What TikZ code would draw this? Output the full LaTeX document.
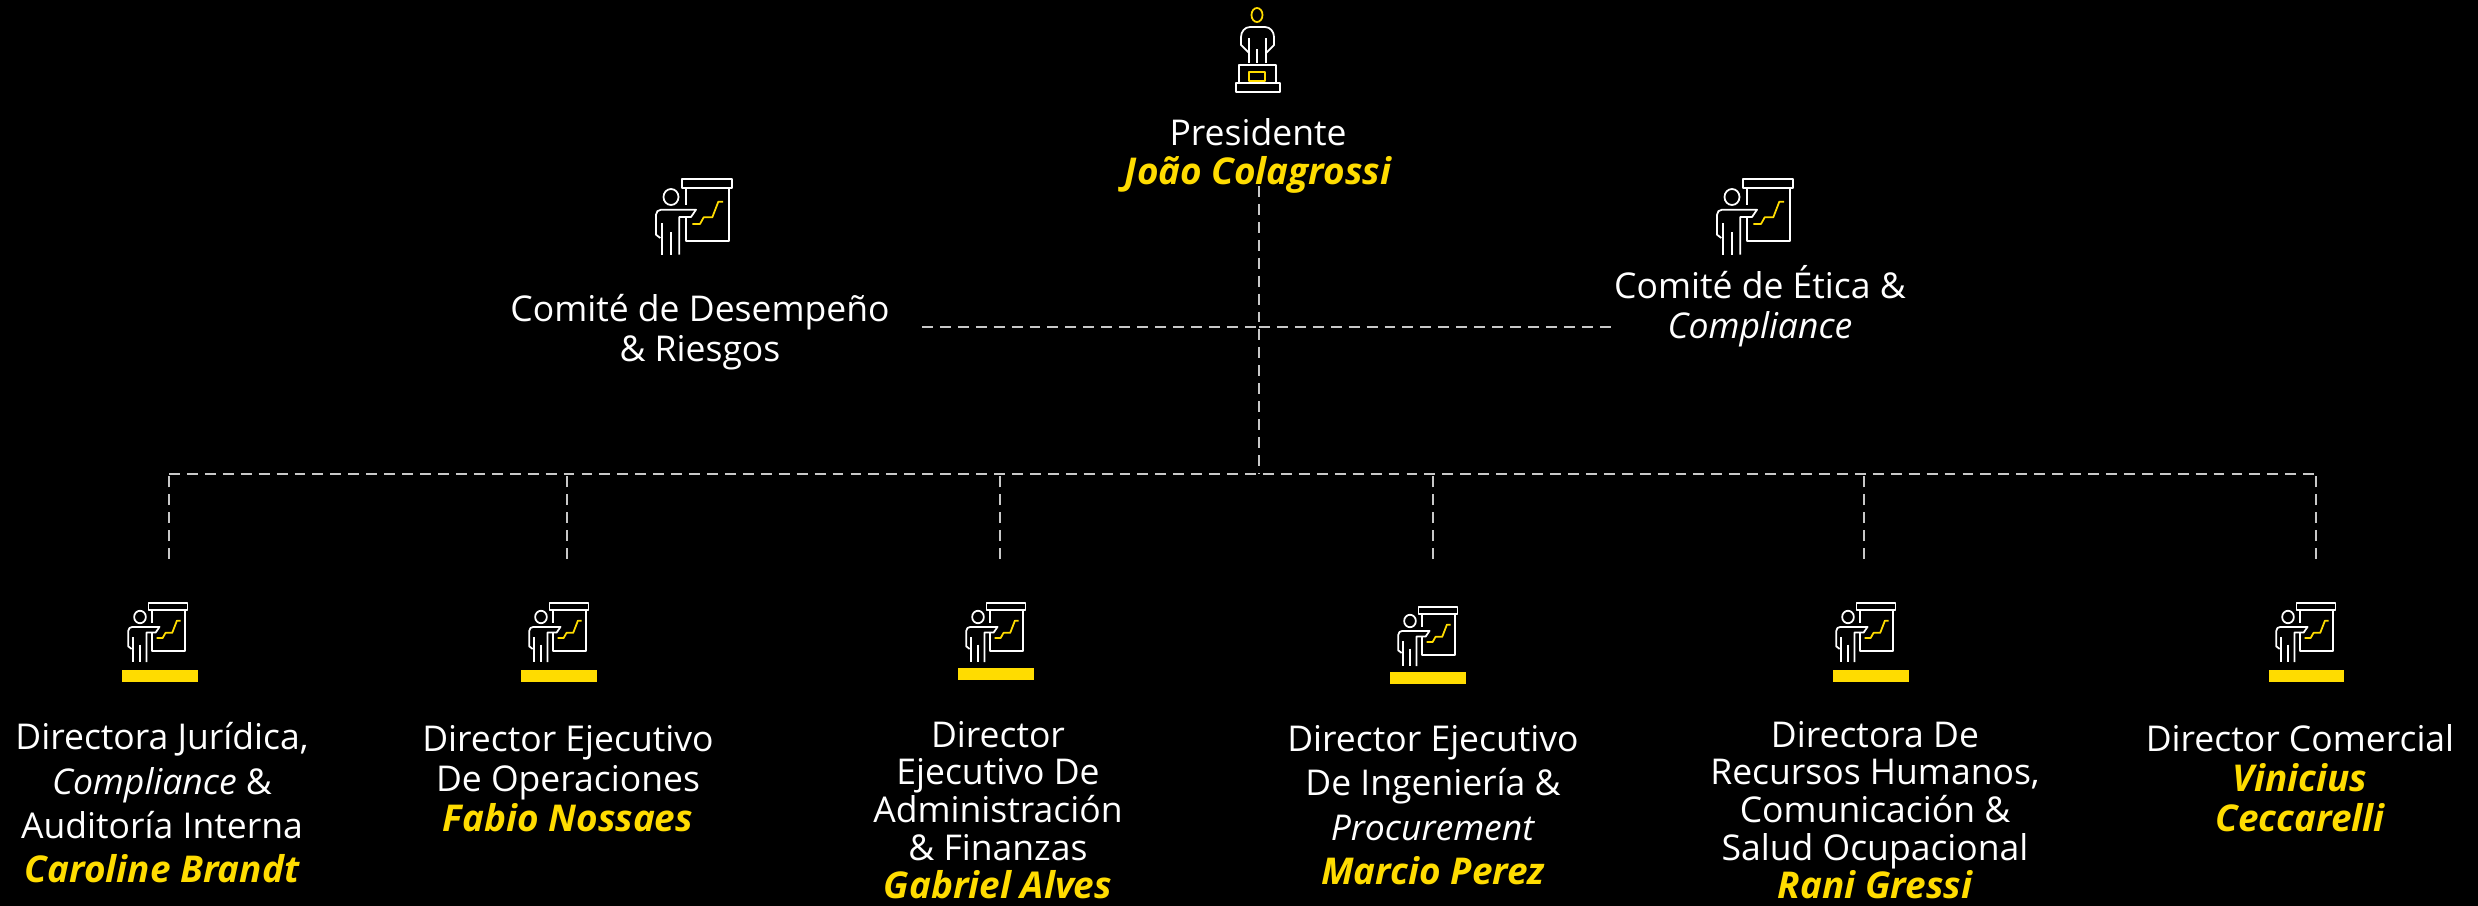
\documentclass[tikz,border=0pt]{standalone}
\usepackage{fontspec}
\usepackage{xcolor}
\setmainfont{Open Sans}
\definecolor{eyyellow}{HTML}{FFDC00}
\definecolor{dashgray}{HTML}{C8C8C8}
\newcommand{\boss}[1]{{\color{eyyellow}\fontsize{10.5}{11.34}\selectfont\bfseries\itshape #1}}
\tikzset{
    org/.style={text=white,align=center,font=\fontsize{10.1}{11.34}\selectfont,inner sep=0pt},
    orgwide/.style={org,font=\fontsize{10.1}{12.6}\selectfont},
    orgtight/.style={org,font=\fontsize{10.1}{10.77}\selectfont},
    link/.style={dashgray,line width=0.7pt,dash pattern=on 3.1pt off 2pt},
    iconline/.style={white,line width=0.5pt,line join=round},
    iconchart/.style={eyyellow,line width=0.5pt,line join=round},
    dirbar/.style={fill=eyyellow,minimum width=0.75cm,minimum height=0.12cm,inner sep=0pt},
    presenter/.pic={
        \draw[iconline] (-9,26) -- (-9,57.7);
        \draw[iconline] (-0.3,35.3) -- (-0.3,57.7);
        \draw[iconline] (8.3,57.7) -- (8.3,20) -- (20,20) -- (25,12.7) -- (-10,12.7) to[out=180,in=90] (-15,17.7) -- (-15,37.7) -- (-10.7,41);
        \draw[iconline] (0,0) ellipse (7.5 and 8);
        \draw[iconline] (11,-18) rectangle (61,-9);
        \draw[iconline] (15,-9) -- (15,8);
        \draw[iconline] (15,21) -- (15,44) -- (58,44) -- (58,-9);
        \draw[iconchart] (21.3,27) -- (29,27) -- (32.7,20.3) -- (41.3,20.3) -- (47.3,4.7) -- (52,4.7);
    }
}
\begin{document}
\begin{tikzpicture}[x=0.01cm,y=-0.01cm]
    \useasboundingbox (0,0) rectangle (2478,906);
    \fill[black] (0,0) rectangle (2478,906);
    % icon at the top
    \draw[eyyellow,line width=0.5pt] (1257,15) ellipse (5.5 and 7);
    \draw[iconline] (1249,63) -- (1249,38);
    \draw[iconline] (1266,63) -- (1266,38);
    \draw[iconline] (1249,53) -- (1241,45) -- (1241,37) to[out=90,in=180] (1250,27) -- (1265,27) to[out=0,in=90] (1274,37) -- (1274,45) -- (1266,53);
    \draw[iconline] (1257,49) -- (1257,63);
    \draw[iconline] (1239,65) rectangle (1276,83);
    \draw[iconline] (1236,83) rectangle (1280,92);
    \draw[iconchart] (1249,72) rectangle (1265,81);
    % text at the top
    \node[org] (pres) at (1258,156) {Presidente\\ \boss{João Colagrossi}};
    \node[org] (cdr) at (700,332) {Comité de Desempeño\\ \& Riesgos};
    \node[org] (cec) at (1760,306) {Comité de Ética \&\\ \textit{Compliance}};
    \pic at (671,197) {presenter};
    \pic at (1732,197) {presenter};
    % directors
    \node[orgwide] (dir1) at (162,803) {Directora Jurídica,\\ \textit{Compliance} \&\\ Auditoría Interna\\ \boss{Caroline Brandt}};
    \node[org] (dir2) at (568,779) {Director Ejecutivo\\ De Operaciones\\ \boss{Fabio Nossaes}};
    \node[orgtight] (dir3) at (998,810) {Director\\ Ejecutivo De\\ Administración\\ \& Finanzas\\ \boss{Gabriel Alves}};
    \node[orgwide] (dir4) at (1433,805) {Director Ejecutivo\\ De Ingeniería \&\\ \textit{Procurement}\\ \boss{Marcio Perez}};
    \node[orgtight] (dir5) at (1875,810) {Directora De\\ Recursos Humanos,\\ Comunicación \&\\ Salud Ocupacional\\ \boss{Rani Gressi}};
    \node[org] (dir6) at (2300,778) {Director Comercial\\ \boss{Vinicius}\\ \boss{Ceccarelli}};
    \foreach \x/\y/\n in {160/676/1,559/676/2,996/674/3,1428/678/4,1871/676/5,2306/676/6} {
        \node[dirbar] (bar\n) at (\x,\y) {};
    }
    \foreach \x/\y in {140/617,541/617,978/617,1410/621,1848/617,2288/617} {
        \pic[scale=0.78] at (\x,\y) {presenter};
    }
    % dashed links
    \coordinate (bus) at (1259,474);
    \coordinate (top) at (1259,186);
    \coordinate (cross) at (1259,327);
    \draw[link] (top) -- (bus);
    \draw[link,shorten <=9pt] (cdr.east |- cross) -- (cross);
    \draw[link] (cross) -- (cec.west |- cross);
    \foreach \x/\n in {169/1,567/2,1000/3,1433/4,1864/5,2316/6} {
        \coordinate (drop\n) at (\x,559);
        \draw[link] (drop\n) -- (\x,474);
    }
    \draw[link] (drop1 |- bus) -- (drop6 |- bus);
\end{tikzpicture}
\end{document}
